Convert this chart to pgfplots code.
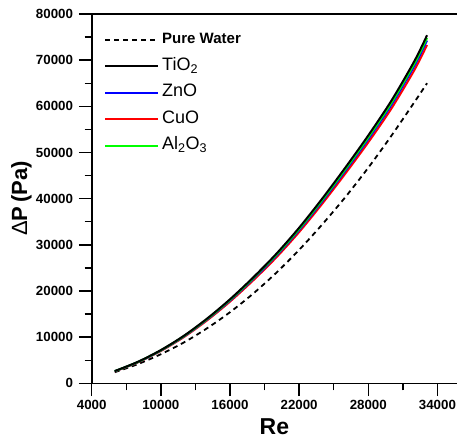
\documentclass[border=0pt]{standalone}
\usepackage{fontspec}
\setmainfont{Liberation Sans}
\usepackage{pgfplots}
\pgfplotsset{compat=1.18}
\definecolor{cblue}{RGB}{0,0,255}
\definecolor{cred}{RGB}{255,0,0}
\definecolor{cgreen}{RGB}{0,255,0}
\begin{document}
\begin{tikzpicture}
\begin{axis}[
  at={(0,0)}, anchor=south west,
  scale only axis, width=365.3pt, height=369.3pt,
  xmin=4000, xmax=35700, ymin=0, ymax=80000,
  axis lines=left, axis line style={-, line width=1.6pt},
  clip=false,
  xtick={4000,10000,...,34000}, minor xtick={7000,13000,...,31000},
  ytick={0,10000,...,80000}, minor ytick={5000,15000,...,75000},
  tick align=outside, major tick length=12.7pt, minor tick length=7pt,
  every tick/.style={line width=1.4pt, black},
  scaled ticks=false,
  /pgf/number format/1000 sep={},
  /pgf/number format/assume math mode=true,
  tick label style={font=\fontsize{13.3}{15}\selectfont\bfseries},
  yticklabel style={xshift=-2.5pt},
  xticklabel style={yshift=-1pt},
  xlabel={Re},
  ylabel={{\mdseries Δ}P\,(Pa)},
  xlabel style={at={(axis description cs:0.5,-0.117)}, anchor=center, font=\fontsize{23}{26}\selectfont\bfseries},
  ylabel style={at={(axis description cs:-0.192,0.5)}, anchor=center, rotate=0, font=\fontsize{22}{26}\selectfont\bfseries},
  legend image code/.code={\draw[line width=2pt,#1] (0pt,0pt) -- (53pt,0pt);},
  legend style={draw=none, fill=none, at={(rel axis cs:0.0337,0.952)}, anchor=north west,
    inner sep=0pt, row sep=10.4pt, cells={anchor=west},
    nodes={inner xsep=3pt, inner ysep=0pt, text height=12pt, text depth=4pt}},
]
\addlegendimage{draw=black, dash pattern=on 5pt off 4pt}
\addlegendentry{\fontsize{15}{15}\selectfont\bfseries Pure Water}
\addlegendimage{draw=black}
\addlegendentry{\fontsize{18}{18}\selectfont TiO\textsubscript{2}}
\addlegendimage{draw=cblue}
\addlegendentry{\fontsize{18}{18}\selectfont ZnO}
\addlegendimage{draw=cred}
\addlegendentry{\fontsize{18}{18}\selectfont CuO}
\addlegendimage{draw=cgreen}
\addlegendentry{\fontsize{18}{18}\selectfont Al\textsubscript{2}O\textsubscript{3}}

% Pure water
\addplot[forget plot, draw=black, line width=1.8pt, dash pattern=on 5pt off 4pt, smooth] coordinates {
(6000,2400) (8000,4150) (10000,6300) (12000,8850) (14000,11900) (16000,15400)
(18000,19400) (20000,23900) (22000,28900) (24000,34400) (26000,40300)
(28000,46700) (30000,53600) (32000,60900) (33100,65000)};
% CuO
\addplot[forget plot, draw=cred, line width=2pt, smooth] coordinates {
(6000,2576) (8000,4520) (10000,6998) (12000,10012) (14000,13608) (16000,17690)
(18000,22259) (20000,27216) (22000,32756) (24000,38880) (26000,45392)
(28000,52196) (30000,59486) (32000,67846) (33100,73289)};
% ZnO
\addplot[forget plot, draw=cblue, line width=2pt, smooth] coordinates {
(6000,2610) (8000,4580) (10000,7092) (12000,10146) (14000,13790) (16000,17927)
(18000,22557) (20000,27580) (22000,33195) (24000,39400) (26000,46000)
(28000,52895) (30000,60282) (32000,68753) (33100,74269)};
% Al2O3
\addplot[forget plot, draw=cgreen, line width=2pt, smooth] coordinates {
(6000,2629) (8000,4613) (10000,7142) (12000,10218) (14000,13888) (16000,18054)
(18000,22717) (20000,27776) (22000,33430) (24000,39680) (26000,46326)
(28000,53270) (30000,60710) (32000,69242) (33100,74797)};
% TiO2
\addplot[forget plot, draw=black, line width=2pt, smooth] coordinates {
(6000,2650) (8000,4650) (10000,7200) (12000,10300) (14000,14000) (16000,18200)
(18000,22900) (20000,28000) (22000,33700) (24000,40000) (26000,46700)
(28000,53700) (30000,61200) (32000,69800) (33100,75400)};

\draw[line width=1.6pt] (rel axis cs:0,1) -- (rel axis cs:1,1);
\end{axis}
\pgfresetboundingbox
\path (-91.7pt,-55.7pt) rectangle (365.3pt,383.3pt);
\end{tikzpicture}
\end{document}
